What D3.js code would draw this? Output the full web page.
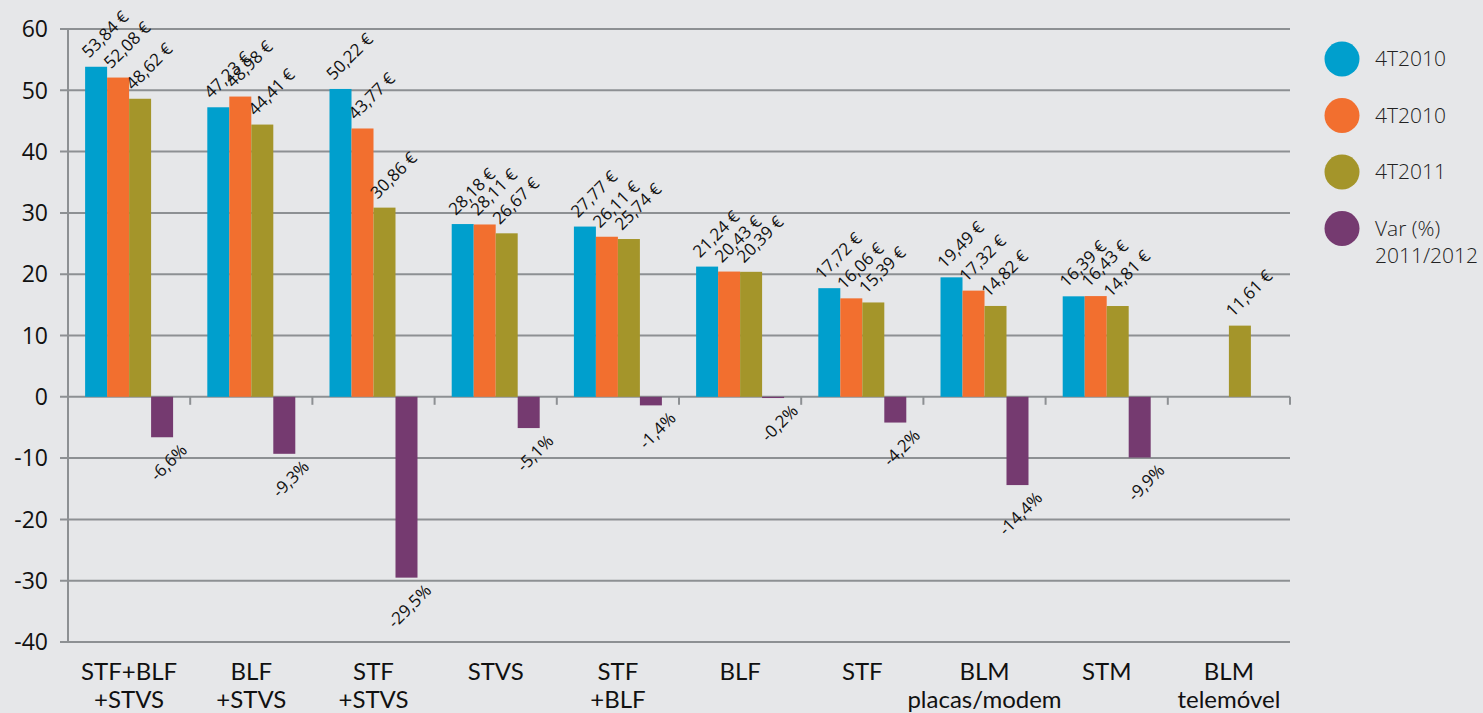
<!DOCTYPE html>
<html>
<head>
<meta charset="utf-8">
<script src="https://cdn.jsdelivr.net/npm/d3@7"></script>
<style>
  body { margin: 0; background: #e6e7e9; }
  svg { display: block; }
</style>
</head>
<body>
<svg id="chart" width="1483" height="713"></svg>
<script>
// data
const categories = ["STF+BLF\n+STVS", "BLF\n+STVS", "STF\n+STVS", "STVS", "STF\n+BLF",
                    "BLF", "STF", "BLM\nplacas/modem", "STM", "BLM\ntelemóvel"];
const serie2010a = [53.84, 47.23, 50.22, 28.18, 27.77, 21.24, 17.72, 19.49, 16.39, null];
const serie2010b = [52.08, 48.98, 43.77, 28.11, 26.11, 20.43, 16.06, 17.32, 16.43, null];
const serie2011  = [48.62, 44.41, 30.86, 26.67, 25.74, 20.39, 15.39, 14.82, 14.81, 11.61];
const varPct     = [-6.6, -9.3, -29.5, -5.1, -1.4, -0.2, -4.2, -14.4, -9.9, null];
const yTicks = [-40, -30, -20, -10, 0, 10, 20, 30, 40, 50, 60];
const legendLabels = ["4T2010", "4T2010", "4T2011", "Var (%)\n2011/2012"];

const keys = ["a", "b", "c", "v"];
const colors = {a: "#009fcd", b: "#f26f2f", c: "#a4952a", v: "#753a70"};
const seriesByKey = {a: serie2010a, b: serie2010b, c: serie2011, v: varPct};

const svg = d3.select("#chart");
const mLeft = 68, mRight = 1290, mTop = 29, mBottom = 642;

const y = d3.scaleLinear().domain([-40, 60]).range([mBottom, mTop]);
const x0 = d3.scaleBand().domain(d3.range(categories.length)).range([mLeft, mRight]).padding(0);
const bw = x0.bandwidth();
const x1 = d3.scaleBand().domain(keys).range([bw * 0.14, bw * 0.86]).padding(0);

const fmt = v => d3.format(".2f")(v).replace(".", ",");
const fmtPct = v => d3.format(".1f")(v).replace(".", ",").replace("\u2212", "-") + "%";

// grid lines
svg.append("g").selectAll("line").data(yTicks).join("line")
  .attr("x1", mLeft - 8).attr("x2", mRight)
  .attr("y1", d => y(d)).attr("y2", d => y(d))
  .attr("stroke", "#8d9093").attr("stroke-width", 2);

// y tick labels
svg.append("g").selectAll("text").data(yTicks).join("text")
  .attr("x", 48).attr("y", d => y(d)).attr("dy", "0.36em")
  .attr("text-anchor", "end")
  .attr("font-family", "'Open Sans', sans-serif").attr("font-size", 23)
  .attr("fill", "#111")
  .text(d => d);

// y axis line
svg.append("line")
  .attr("x1", mLeft).attr("x2", mLeft).attr("y1", mTop).attr("y2", mBottom)
  .attr("stroke", "#8d9093").attr("stroke-width", 2);

// category ticks on zero line
svg.append("g").selectAll("line").data(d3.range(1, categories.length + 1)).join("line")
  .attr("x1", d => mLeft + d * bw).attr("x2", d => mLeft + d * bw)
  .attr("y1", y(0)).attr("y2", y(0) + 8)
  .attr("stroke", "#8d9093").attr("stroke-width", 2);

// bars
const rows = [];
categories.forEach((c, i) => {
  keys.forEach(k => {
    const v = seriesByKey[k][i];
    if (v !== null) rows.push({i, k, v});
  });
});

const g = svg.append("g");
g.selectAll("rect").data(rows).join("rect")
  .attr("x", d => x0(d.i) + x1(d.k))
  .attr("width", x1.bandwidth())
  .attr("y", d => y(Math.max(0, d.v)))
  .attr("height", d => Math.abs(y(d.v) - y(0)))
  .attr("fill", d => colors[d.k]);

// value labels
g.selectAll("text.pos").data(rows.filter(d => d.k !== "v")).join("text")
  .attr("class", "pos")
  .attr("transform", d => `translate(${x0(d.i) + x1(d.k) + 4},${y(d.v) - 8}) rotate(-45)`)
  .attr("font-family", "'Open Sans', sans-serif").attr("font-size", 17)
  .attr("fill", "#111")
  .text(d => fmt(d.v) + " €");

g.selectAll("text.neg").data(rows.filter(d => d.k === "v")).join("text")
  .attr("class", "neg")
  .attr("transform", d => `translate(${x0(d.i) + x1(d.k) + x1.bandwidth() + 15},${y(d.v) + 14}) rotate(-45)`)
  .attr("text-anchor", "end")
  .attr("font-family", "'Open Sans', sans-serif").attr("font-size", 17)
  .attr("fill", "#111")
  .text(d => fmtPct(d.v));

// category labels
const cl = svg.append("g").selectAll("text").data(categories).join("text")
  .attr("text-anchor", "middle")
  .attr("font-family", "Lato, sans-serif")
  .attr("font-size", 24)
  .attr("fill", "#111");
cl.each(function(d, i) {
  const t = d3.select(this);
  d.split("\n").forEach((line, j) => {
    t.append("tspan")
      .attr("x", x0(i) + bw / 2)
      .attr("y", 680 + j * 28)
      .text(line);
  });
});

// legend
const leg = svg.append("g").selectAll("g").data(keys).join("g")
  .attr("transform", (d, i) => `translate(1342,${59 + i * 56.5})`);
leg.append("circle").attr("r", 17.5).attr("fill", d => colors[d]);
leg.append("text")
  .attr("font-family", "'Open Sans', sans-serif").attr("font-weight", 300)
  .attr("font-size", 21).attr("fill", "#222")
  .each(function(d, i) {
    const t = d3.select(this);
    legendLabels[i].split("\n").forEach((line, j) => {
      t.append("tspan").attr("x", 33).attr("y", 7 + j * 27).text(line);
    });
  });
</script>
</body>
</html>
